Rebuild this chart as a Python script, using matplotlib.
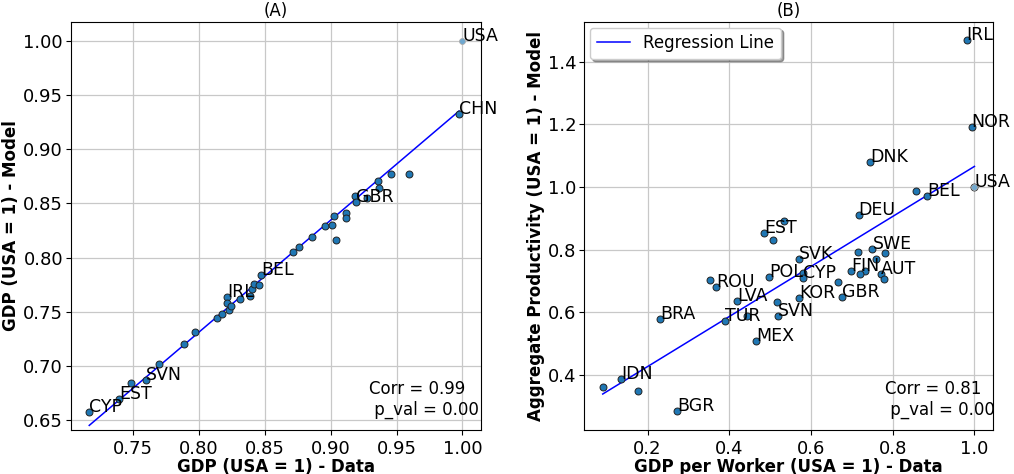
import numpy as np
import matplotlib
matplotlib.use("Agg")
import matplotlib.pyplot as plt

# ---------------- Panel A data ----------------
a_x = [0.7166, 0.7391, 0.7480, 0.7599, 0.7697, 0.7885, 0.7968, 0.8139, 0.8175,
       0.8215, 0.8215, 0.8228, 0.8246, 0.8311, 0.8390, 0.8405, 0.8418, 0.8453,
       0.8471, 0.8715, 0.8760, 0.8856, 0.8960, 0.9013, 0.9038, 0.9023, 0.9113,
       0.9113, 0.9184, 0.9189, 0.9273, 0.9356, 0.9366, 0.9456, 0.9597, 0.9975]
a_y = [0.6577, 0.6698, 0.6845, 0.6867, 0.7022, 0.7207, 0.7310, 0.7446, 0.7484,
       0.7634, 0.7580, 0.7516, 0.7554, 0.7618, 0.7643, 0.7713, 0.7758, 0.7751,
       0.7840, 0.8054, 0.8096, 0.8192, 0.8287, 0.8297, 0.8160, 0.8383, 0.8409,
       0.8361, 0.8567, 0.8516, 0.8554, 0.8709, 0.8645, 0.8774, 0.8768, 0.9325]
a_lab = ["CYP", "EST", "", "SVN", "", "", "", "", "",
         "IRL", "", "", "", "", "", "", "", "",
         "BEL", "", "", "", "", "", "", "", "",
         "", "", "GBR", "", "", "", "", "", "CHN"]
usa_a = (1.0, 1.0)
a_stats = "Corr = 0.99\n p_val = 0.00"

# ---------------- Panel B data ----------------
b_x = [0.9811, 0.9933, 0.7452, 1.0000, 0.8574, 0.8843, 0.7167, 0.5336, 0.4848,
       0.5060, 0.7503, 0.7154, 0.7820, 0.5707, 0.7585, 0.6976, 0.7333, 0.7210,
       0.7722, 0.7780, 0.5812, 0.5812, 0.4978, 0.6666, 0.3522, 0.3684, 0.6763,
       0.5707, 0.4195, 0.5170, 0.5195, 0.4435, 0.3902, 0.2309, 0.4664, 0.1349,
       0.0902, 0.1756, 0.2732]
b_y = [1.4691, 1.1926, 1.0787, 1.0000, 0.9883, 0.9713, 0.9110, 0.8928, 0.8544,
       0.8310, 0.8022, 0.7936, 0.7885, 0.7693, 0.7693, 0.7320, 0.7329, 0.7214,
       0.7214, 0.7054, 0.7246, 0.7105, 0.7125, 0.6958, 0.7025, 0.6789, 0.6480,
       0.6467, 0.6362, 0.6310, 0.5875, 0.5887, 0.5732, 0.5787, 0.5070, 0.3860,
       0.3616, 0.3466, 0.2826]
b_lab = ["IRL", "NOR", "DNK", "USA", "", "BEL", "DEU", "", "EST",
         "", "SWE", "", "", "SVK", "", "FIN", "", "",
         "AUT", "", "", "CYP", "POL", "", "", "ROU", "GBR",
         "KOR", "LVA", "", "SVN", "", "TUR", "BRA", "MEX", "IDN",
         "", "", "BGR"]
b_stats = "Corr = 0.81\n p_val = 0.00"

fig = plt.figure(figsize=(10.14, 4.74), dpi=100)
axA = fig.add_axes([0.0697, 0.0928, 0.4047, 0.8614])
axB = fig.add_axes([0.5760, 0.0928, 0.4033, 0.8614])

def draw(ax, xs, ys, labs, stats, usa, title, xlabel, ylabel, legend, stats_x):
    xs = np.asarray(xs); ys = np.asarray(ys)
    ax.grid(True, color="#c8c8c8", linewidth=0.9, zorder=0)
    ax.set_axisbelow(True)
    ax.scatter(xs, ys, s=25, color="#1f77b4", edgecolors="#222222",
               linewidths=0.7, zorder=3)
    fx, fy = xs, ys
    if usa is not None:
        ax.scatter([usa[0]], [usa[1]], s=18, color="#6fa8d0",
                   edgecolors="#aaaaaa", linewidths=0.6, zorder=3)
        ax.text(usa[0], usa[1], "USA", fontsize=12.5, zorder=4)
        fx = np.append(xs, usa[0]); fy = np.append(ys, usa[1])
    coef = np.polyfit(fx, fy, 1)
    order = np.argsort(xs)
    ax.plot(xs[order], np.polyval(coef, xs[order]), color="blue", lw=1.1,
            zorder=2, label="Regression Line")
    for x, y, l in zip(xs, ys, labs):
        if l:
            ax.text(x, y, l, fontsize=12.5, zorder=4)
    ax.text(stats_x, 0.028, stats, transform=ax.transAxes, fontsize=12,
            va="bottom", ha="left")
    ax.set_title(title, fontsize=12, pad=4)
    ax.set_xlabel(xlabel, fontsize=12, fontweight="bold", labelpad=0)
    ax.set_ylabel(ylabel, fontsize=12, fontweight="bold", labelpad=2)
    ax.tick_params(labelsize=13)
    ax.tick_params(axis="y", pad=2)
    if legend:
        ax.legend(loc="upper left", fontsize=12, shadow=True, fancybox=True,
                  handlelength=2.0, borderaxespad=0.35)

draw(axA, a_x, a_y, a_lab, a_stats, usa_a, "(A)", "GDP (USA = 1) - Data",
     "GDP (USA = 1) - Model", False, 0.727)
axA.set_xlim(0.7025, 1.0142)
axA.set_ylim(0.641, 1.0175)
axA.set_xticks([0.75, 0.80, 0.85, 0.90, 0.95, 1.00])
axA.set_yticks([0.65, 0.70, 0.75, 0.80, 0.85, 0.90, 0.95, 1.00])

draw(axB, b_x, b_y, b_lab, b_stats, None, "(B)",
     "GDP per Worker (USA = 1) - Data",
     "Aggregate Productivity (USA = 1) - Model", True, 0.735)
axB.scatter([1.0], [1.0], s=18, color="#6fa8d0", edgecolors="#aaaaaa",
            linewidths=0.6, zorder=3.5)
axB.set_xlim(0.0445, 1.0455)
axB.set_ylim(0.2233, 1.5284)
axB.set_xticks([0.2, 0.4, 0.6, 0.8, 1.0])
axB.set_yticks([0.4, 0.6, 0.8, 1.0, 1.2, 1.4])

fig.savefig("out.png", dpi=100)
